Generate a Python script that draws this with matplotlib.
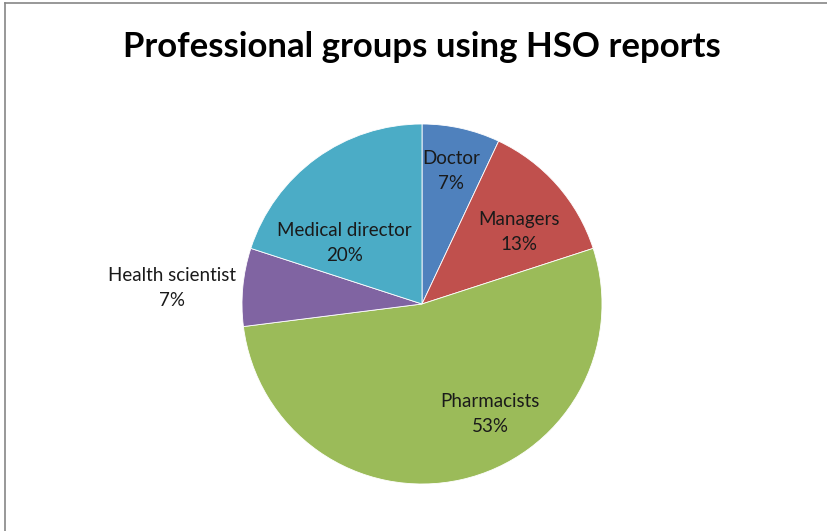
import matplotlib
matplotlib.use("Agg")
import matplotlib.pyplot as plt
from matplotlib.lines import Line2D

categories = ["Doctor", "Managers", "Pharmacists", "Health scientist", "Medical director"]
values = [7, 13, 53, 7, 20]
pct_labels = ["7%", "13%", "53%", "7%", "20%"]
colors = ["#4F81BD", "#C0504D", "#9BBB59", "#8064A2", "#4BACC6"]
# label positions (data units, pie radius = 1)
label_pos = [(0.16, 0.74), (0.54, 0.40), (0.38, -0.61), (-1.39, 0.09), (-0.43, 0.34)]

W, H = 827, 531
fig = plt.figure(figsize=(W / 100, H / 100), dpi=100)
fig.patch.set_facecolor("white")

# chart border (top and left visible)
fig.add_artist(Line2D([4.5 / W, 4.5 / W], [0, 1 - 2.5 / H], transform=fig.transFigure,
                      color="#868686", lw=1.2))
fig.add_artist(Line2D([4.5 / W, 1], [1 - 2.5 / H, 1 - 2.5 / H], transform=fig.transFigure,
                      color="#868686", lw=1.2))

cx, cy, r = 422, 531 - 304, 180
ax = fig.add_axes([(cx - r) / W, (cy - r) / H, 2 * r / W, 2 * r / H])
ax.pie(values, colors=colors, startangle=90, counterclock=False, radius=1,
       wedgeprops=dict(linewidth=0.6, edgecolor="white"))
ax.set_xlim(-1, 1)
ax.set_ylim(-1, 1)
ax.set_axis_off()

fam = ["Lato", "DejaVu Sans"]
for (x, y), c, p in zip(label_pos, categories, pct_labels):
    ax.text(x, y, c + "\n" + p, ha="center", va="center", fontsize=13.5,
            family=fam, color="#1a1a1a", linespacing=1.6, clip_on=False)

fig.text(422 / W, 1 - 47 / H, "Professional groups using HSO reports", ha="center",
         va="center", fontsize=25, fontweight="bold", family=fam, color="black")

fig.savefig("out.png", dpi=100)
